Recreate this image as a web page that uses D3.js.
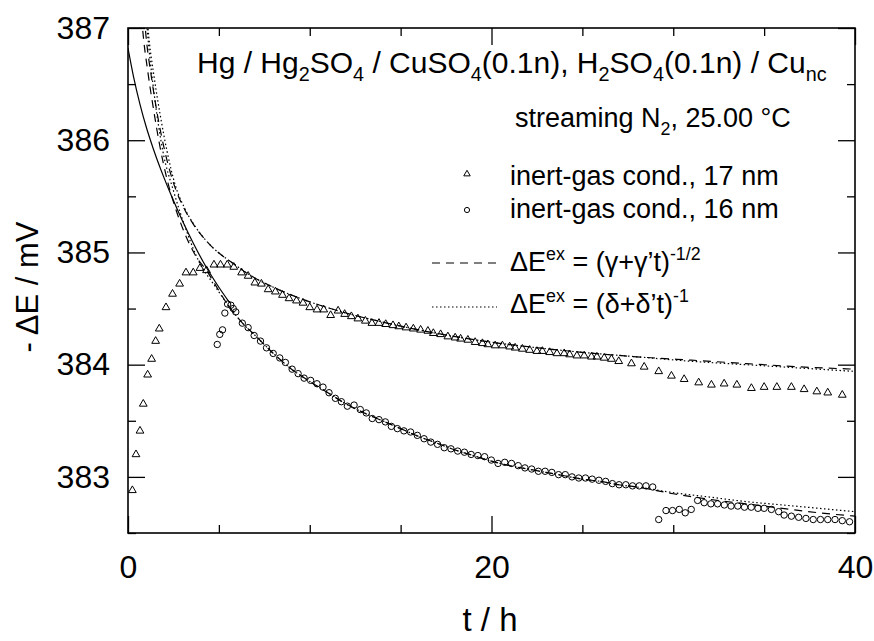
<!DOCTYPE html>
<html>
<head>
<meta charset="utf-8">
<script src="https://cdn.jsdelivr.net/npm/d3@7.9.0/dist/d3.min.js"></script>
<style>
  body { margin: 0; background: #fff; }
  svg { display: block; font-family: "Liberation Sans", Arial, sans-serif; }
  text { white-space: pre; }
</style>
</head>
<body>
<svg id="chart" width="874" height="641"></svg>
<script>
// inert-gas cond., 17 nm (triangles)
const t17 = [0.24, 0.44, 0.66, 0.84, 1.08, 1.30, 1.52, 1.72, 2.09, 2.45, 2.84, 3.19, 3.59, 3.96, 4.32, 4.73, 5.09, 5.46, 5.82, 6.25,
  6.61, 6.98, 7.34, 7.71, 8.11, 8.50, 8.86, 9.27, 9.63, 10.0, 10.4, 10.77, 11.15, 11.56, 11.92, 12.29, 12.65, 13.06, 13.42, 13.81,
  14.18, 14.58, 14.9, 15.3, 15.7, 16.1, 16.5, 16.8, 17.2, 17.6, 18.0, 18.3, 18.7, 19.1, 19.5, 19.8, 20.2, 20.6, 21.0, 21.3,
  21.7, 22.1, 22.5, 22.8, 23.2, 23.6, 24.0, 24.3, 24.7, 25.1, 25.5, 25.8, 26.2, 26.6, 27.0, 27.7, 28.4, 29.2, 29.9, 30.6,
  31.4, 32.1, 32.8, 33.5, 34.3, 35.0, 35.7, 36.5, 37.2, 37.9, 38.5, 39.3];
const v17 = [382.88, 383.20, 383.41, 383.65, 383.91, 384.05, 384.21, 384.32, 384.51, 384.63, 384.72, 384.82, 384.82, 384.86, 384.84, 384.89, 384.89, 384.89, 384.87, 384.82,
  384.79, 384.73, 384.72, 384.67, 384.65, 384.62, 384.59, 384.57, 384.55, 384.51, 384.49, 384.49, 384.44, 384.48, 384.45, 384.43, 384.41, 384.39, 384.37, 384.37,
  384.36, 384.35, 384.34, 384.33, 384.32, 384.31, 384.30, 384.28, 384.27, 384.25, 384.24, 384.23, 384.22, 384.20, 384.19, 384.18, 384.17, 384.17, 384.16, 384.15,
  384.14, 384.13, 384.12, 384.12, 384.11, 384.10, 384.10, 384.09, 384.08, 384.08, 384.07, 384.07, 384.06, 384.05, 384.03, 384.01, 383.98, 383.94, 383.90, 383.87,
  383.84, 383.82, 383.83, 383.82, 383.79, 383.80, 383.80, 383.80, 383.78, 383.76, 383.75, 383.73];

// inert-gas cond., 16 nm (circles)
const t16 = [4.91, 5.05, 5.20, 5.33, 5.48, 5.66, 5.79, 5.93, 6.29, 6.61, 6.94, 7.29, 7.62, 7.99, 8.35, 8.66, 9.03, 9.36, 9.69, 10.05,
  10.40, 10.73, 11.06, 11.41, 11.74, 12.07, 12.44, 12.78, 13.11, 13.44, 13.81, 14.16, 14.49, 14.82, 15.18, 15.55, 15.92, 16.29, 16.66, 17.03,
  17.40, 17.77, 18.14, 18.51, 18.88, 19.25, 19.62, 19.99, 20.36, 20.73, 21.10, 21.47, 21.84, 22.21, 22.58, 22.95, 23.32, 23.69, 24.06, 24.43,
  24.80, 25.17, 25.54, 25.91, 26.28, 26.65, 27.02, 27.39, 27.76, 28.13, 28.50, 28.87, 29.2, 29.6, 29.96, 30.33, 30.66, 30.99, 31.34, 31.70,
  32.07, 32.44, 32.81, 33.18, 33.55, 33.92, 34.29, 34.66, 35.0, 35.4, 35.8, 36.1, 36.5, 36.9, 37.3, 37.7, 38.1, 38.5, 38.9, 39.3, 39.7];
const v16 = [384.18, 384.27, 384.31, 384.46, 384.54, 384.53, 384.50, 384.47, 384.37, 384.33, 384.26, 384.21, 384.15, 384.10, 384.06, 384.02, 383.96, 383.92, 383.88, 383.86,
  383.83, 383.80, 383.75, 383.70, 383.67, 383.63, 383.64, 383.60, 383.57, 383.52, 383.51, 383.49, 383.45, 383.43, 383.41, 383.40, 383.37, 383.34, 383.31, 383.29,
  383.26, 383.25, 383.23, 383.22, 383.20, 383.19, 383.18, 383.15, 383.12, 383.13, 383.12, 383.10, 383.08, 383.07, 383.05, 383.05, 383.04, 383.02, 383.02, 383.00,
  382.99, 382.99, 382.98, 382.97, 382.96, 382.94, 382.93, 382.93, 382.92, 382.92, 382.92, 382.91, 382.62, 382.70, 382.70, 382.71, 382.68, 382.71, 382.79, 382.77,
  382.76, 382.76, 382.75, 382.74, 382.74, 382.73, 382.73, 382.72, 382.72, 382.71, 382.69, 382.66, 382.65, 382.64, 382.63, 382.62, 382.62, 382.62, 382.62, 382.61, 382.60];

// fitted curves
const solidT = [0, 0.3, 0.66, 1.0, 1.4, 1.85, 2.4, 3.0, 3.6, 4.3, 5.0, 5.6];
const solidV = [386.82, 386.57, 386.32, 386.12, 385.92, 385.72, 385.5, 385.28, 385.08, 384.87, 384.69, 384.55];

const dash17T = [0.9, 0.95, 1.3, 1.65, 2.0, 2.5, 3.0, 3.6, 4.5, 5.8, 7, 8, 9, 10, 12, 14, 16, 18, 20, 22, 25, 28, 31, 34, 37, 40];
const dash17V = [387.1, 387.0, 386.55, 386.2, 385.92, 385.62, 385.42, 385.25, 385.07, 384.9, 384.77, 384.69, 384.62, 384.56, 384.46, 384.38, 384.31, 384.25, 384.2, 384.16, 384.11, 384.07, 384.04, 384.01, 383.98, 383.96];
const dot17T = [1.05, 1.1, 1.45, 1.8, 2.15, 2.6, 3.1, 3.7, 4.5, 5.8, 7, 8, 9, 10, 12, 14, 16, 18, 20, 22, 25, 28, 31, 34, 37, 40];
const dot17V = [387.1, 387.0, 386.55, 386.2, 385.9, 385.6, 385.4, 385.23, 385.07, 384.9, 384.77, 384.69, 384.62, 384.56, 384.46, 384.38, 384.31, 384.25, 384.2, 384.16, 384.11, 384.07, 384.03, 384.0, 383.97, 383.94];

const dash16T = [0.75, 0.8, 1.1, 1.4, 1.75, 2.15, 2.6, 3.2, 3.8, 4.32, 4.7, 5.42, 6.3, 7, 8, 9, 10, 11, 12, 13, 14, 15, 16, 17, 18, 19, 20, 21, 22, 23, 24, 25, 26, 27, 28, 30, 32, 34, 36, 38, 40];
const dash16V = [387.1, 387.0, 386.6, 386.28, 385.95, 385.65, 385.4, 385.14, 384.95, 384.84, 384.74, 384.55, 384.37, 384.26, 384.1, 383.96, 383.85, 383.75, 383.65, 383.57, 383.5, 383.43, 383.36, 383.3, 383.24, 383.19, 383.14, 383.1, 383.07, 383.04, 383.01, 382.98, 382.96, 382.93, 382.91, 382.85, 382.8, 382.76, 382.72, 382.68, 382.65];
const dot16T = [1.0, 1.05, 1.45, 1.92, 2.5, 3.2, 3.96, 4.7, 5.42, 6.3, 7, 8, 9, 10, 11, 12, 13, 14, 15, 16, 17, 18, 19, 20, 21, 22, 23, 24, 25, 26, 27, 28, 30, 32, 34, 36, 38, 40];
const dot16V = [387.1, 387.0, 386.4, 385.9, 385.55, 385.2, 384.9, 384.72, 384.55, 384.37, 384.26, 384.1, 383.96, 383.85, 383.75, 383.65, 383.57, 383.5, 383.43, 383.36, 383.3, 383.24, 383.19, 383.14, 383.1, 383.07, 383.04, 383.01, 382.98, 382.96, 382.93, 382.91, 382.86, 382.82, 382.78, 382.75, 382.72, 382.69];

const xMajor = [0, 20, 40];
const xMinor = [5, 10, 15, 25, 30, 35];
const yMajor = [383, 384, 385, 386, 387];
const yMinor = [382.5, 383.5, 384.5, 385.5, 386.5];

const svg = d3.select("#chart");
const x = d3.scaleLinear().domain([0, 40]).range([128, 855]);
const y = d3.scaleLinear().domain([382.5, 387]).range([533, 28]);
const fontSize = 32;

// axes: ticks point inwards on all four sides
function drawAxis(axis, transform, withLabels) {
  const g = svg.append("g").attr("transform", transform).call(axis);
  g.select(".domain").remove();
  g.selectAll("line").attr("stroke", "#000").attr("stroke-width", 1.3);
  if (!withLabels) {
    g.selectAll("text").remove();
  } else {
    g.selectAll("text").attr("font-size", fontSize).attr("fill", "#000")
      .attr("font-family", "Liberation Sans, Arial, sans-serif");
  }
  return g;
}

drawAxis(d3.axisBottom(x).tickValues(xMajor).tickSize(-17).tickPadding(22).tickFormat(d3.format("d")), "translate(0,533)", true);
drawAxis(d3.axisBottom(x).tickValues(xMinor).tickSize(-8), "translate(0,533)", false);
drawAxis(d3.axisTop(x).tickValues(xMajor).tickSize(-17), "translate(0,28)", false);
drawAxis(d3.axisTop(x).tickValues(xMinor).tickSize(-8), "translate(0,28)", false);
drawAxis(d3.axisLeft(y).tickValues(yMajor).tickSize(-17).tickPadding(18).tickFormat(d3.format("d")), "translate(128,0)", true);
drawAxis(d3.axisLeft(y).tickValues(yMinor).tickSize(-8), "translate(128,0)", false);
drawAxis(d3.axisRight(y).tickValues(yMajor).tickSize(-17), "translate(855,0)", false);
drawAxis(d3.axisRight(y).tickValues(yMinor).tickSize(-8), "translate(855,0)", false);

svg.append("rect")
  .attr("x", x(0)).attr("y", y(387))
  .attr("width", x(40) - x(0)).attr("height", y(382.5) - y(387))
  .attr("fill", "none").attr("stroke", "#000").attr("stroke-width", 1.6);

svg.append("clipPath").attr("id", "plot-clip")
  .append("rect")
  .attr("x", x(0)).attr("y", y(387))
  .attr("width", x(40) - x(0)).attr("height", y(382.5) - y(387));

const plot = svg.append("g").attr("clip-path", "url(#plot-clip)");

const line = d3.line()
  .x((d) => x(d[0]))
  .y((d) => y(d[1]))
  .curve(d3.curveMonotoneX);

function drawCurve(ts, vs, dash) {
  plot.append("path")
    .attr("d", line(ts.map((t, i) => [t, vs[i]])))
    .attr("fill", "none")
    .attr("stroke", "#000")
    .attr("stroke-width", 1.2)
    .attr("stroke-dasharray", dash);
}

drawCurve(solidT, solidV, null);
drawCurve(dash17T, dash17V, "8,6");
drawCurve(dot17T, dot17V, "1.5,2.5");
drawCurve(dash16T, dash16V, "8,6");
drawCurve(dot16T, dot16V, "1.5,2.5");

const triangle = d3.symbol().type(d3.symbolTriangle).size(26);

plot.selectAll(".tri")
  .data(t17.map((t, i) => [t, v17[i]]))
  .join("path")
  .attr("class", "tri")
  .attr("d", triangle)
  .attr("transform", (d) => `translate(${x(d[0])},${y(d[1])})`)
  .attr("fill", "none")
  .attr("stroke", "#000")
  .attr("stroke-width", 1);

plot.selectAll(".circ")
  .data(t16.map((t, i) => [t, v16[i]]))
  .join("circle")
  .attr("class", "circ")
  .attr("cx", (d) => x(d[0]))
  .attr("cy", (d) => y(d[1]))
  .attr("r", 3.2)
  .attr("fill", "none")
  .attr("stroke", "#000")
  .attr("stroke-width", 1);

// text with sub- and superscripts
function richText(px, py, parts, size) {
  const text = svg.append("text")
    .attr("x", px).attr("y", py)
    .attr("font-size", size)
    .attr("fill", "#000");
  let shift = 0;
  parts.forEach(([str, kind]) => {
    const next = kind === "sub" ? size * 0.28 : kind === "sup" ? -size * 0.42 : 0;
    text.append("tspan")
      .attr("dy", next - shift)
      .attr("font-size", kind ? size * 0.66 : size)
      .text(str);
    shift = next;
  });
  return text;
}

richText(197, 73, [
  ["Hg / Hg"], ["2", "sub"], ["SO"], ["4", "sub"], [" / CuSO"], ["4", "sub"],
  ["(0.1n), H"], ["2", "sub"], ["SO"], ["4", "sub"], ["(0.1n) / Cu"], ["nc", "sub"]
], 30);

richText(515, 127, [["streaming N"], ["2", "sub"], [", 25.00 °C"]], 27);

svg.append("path")
  .attr("d", d3.symbol().type(d3.symbolTriangle).size(18))
  .attr("transform", "translate(467,174)")
  .attr("fill", "none").attr("stroke", "#000").attr("stroke-width", 1);
richText(510, 185, [["inert-gas cond., 17 nm"]], 27);

svg.append("circle")
  .attr("cx", 467).attr("cy", 210).attr("r", 2.6)
  .attr("fill", "none").attr("stroke", "#000").attr("stroke-width", 1);
richText(510, 218, [["inert-gas cond., 16 nm"]], 27);

svg.append("line")
  .attr("x1", 432).attr("x2", 497).attr("y1", 263).attr("y2", 263)
  .attr("stroke", "#000").attr("stroke-width", 1.2).attr("stroke-dasharray", "8,6");
richText(510, 271, [["ΔE"], ["ex", "sup"], [" = (γ+γ’t)"], ["-1/2", "sup"]], 27);

svg.append("line")
  .attr("x1", 432).attr("x2", 497).attr("y1", 307).attr("y2", 307)
  .attr("stroke", "#000").attr("stroke-width", 1.2).attr("stroke-dasharray", "1.5,2.5");
richText(510, 313, [["ΔE"], ["ex", "sup"], [" = (δ+δ’t)"], ["-1", "sup"]], 27);

// axis titles
svg.append("text")
  .attr("transform", "translate(38,287) rotate(-90)")
  .attr("text-anchor", "middle")
  .attr("font-size", 31)
  .text("- ΔE / mV");

svg.append("text")
  .attr("x", 490).attr("y", 631)
  .attr("text-anchor", "middle")
  .attr("font-size", 33)
  .text("t / h");
</script>
</body>
</html>
